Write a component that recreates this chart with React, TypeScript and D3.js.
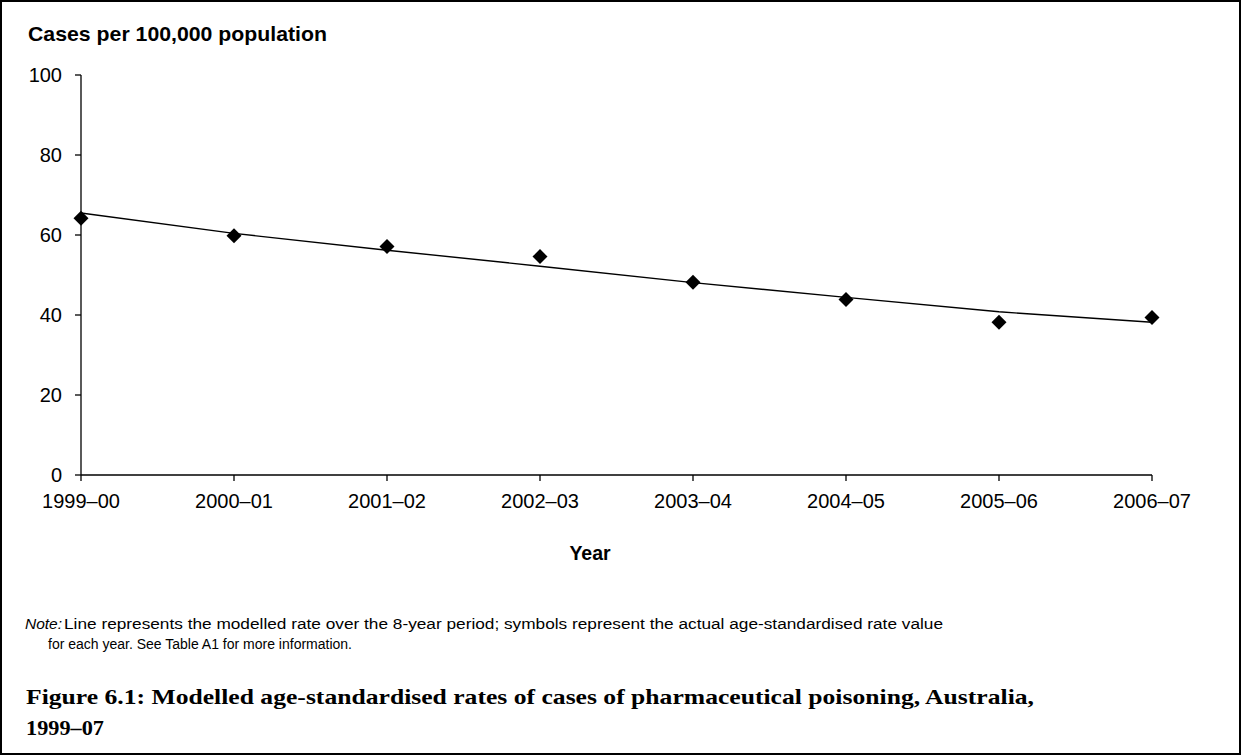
import React from "react";
import * as d3 from "d3";

const years = ["1999–00", "2000–01", "2001–02", "2002–03", "2003–04", "2004–05", "2005–06", "2006–07"];
const actualRates = [64.2, 59.8, 57.1, 54.6, 48.2, 43.9, 38.2, 39.4];
const modelledRates = [65.5, 60.4, 56.2, 52.2, 48.1, 44.4, 40.8, 38.2];
const yTicks = [0, 20, 40, 60, 80, 100];

const W = 1242;
const H = 756;
const plotLeft = 81;
const plotRight = 1152;
const plotTop = 75;
const plotBottom = 475;

export default function App() {
  const x = d3.scalePoint<string>().domain(years).range([plotLeft, plotRight]).padding(0);
  const y = d3.scaleLinear().domain([0, 100]).range([plotBottom, plotTop]);
  const line = d3
    .line<number>()
    .x((_, i) => x(years[i]) as number)
    .y((d) => y(d));
  const diamond = d3.symbol().type(d3.symbolSquare).size(112)() as string;
  const sans = "'Liberation Sans', Arial, sans-serif";
  const serif = "'Liberation Serif', 'Times New Roman', serif";

  return (
    <svg
      width={W}
      height={H}
      style={{ position: "absolute", left: 0, top: 0, background: "#fff" }}
      fontFamily={sans}
    >
      <rect x={1} y={1} width={W - 3} height={H - 3} fill="#fff" stroke="#000" strokeWidth={2} />

      <text x={28} y={41} fontSize={21} fontWeight="bold" fill="#000" textLength={299} lengthAdjust="spacingAndGlyphs">
        Cases per 100,000 population
      </text>

      {/* Y axis */}
      <line x1={plotLeft} x2={plotLeft} y1={y(100)} y2={y(0)} stroke="#000" strokeWidth={1.3} />
      {yTicks.map((t) => (
        <g key={t}>
          <line x1={plotLeft - 6} x2={plotLeft} y1={y(t)} y2={y(t)} stroke="#000" strokeWidth={1.3} />
          <text x={62} y={y(t)} dy="0.35em" textAnchor="end" fontSize={20} fill="#000">
            {t}
          </text>
        </g>
      ))}

      {/* X axis */}
      <line x1={plotLeft} x2={plotRight} y1={y(0)} y2={y(0)} stroke="#000" strokeWidth={1.3} />
      {years.map((yr) => (
        <g key={yr}>
          <line x1={x(yr)} x2={x(yr)} y1={y(0)} y2={y(0) + 6} stroke="#000" strokeWidth={1.3} />
          <text x={x(yr)} y={508} textAnchor="middle" fontSize={20} fill="#000">
            {yr}
          </text>
        </g>
      ))}
      <text x={590} y={560} textAnchor="middle" fontSize={19.5} fontWeight="bold" fill="#000">
        Year
      </text>

      {/* Modelled line */}
      <path d={line(modelledRates) as string} fill="none" stroke="#000" strokeWidth={1.4} />

      {/* Actual points */}
      {actualRates.map((v, i) => (
        <path
          key={i}
          d={diamond}
          transform={`translate(${x(years[i])},${y(v)}) rotate(45)`}
          fill="#000"
        />
      ))}

      {/* Note */}
      <text x={25} y={629} fontSize={15.5} fontStyle="italic" fill="#000">
        Note:
      </text>
      <text x={64} y={629} fontSize={15.5} fill="#000" textLength={879} lengthAdjust="spacingAndGlyphs">
        Line represents the modelled rate over the 8-year period; symbols represent the actual age-standardised rate value
      </text>
      <text x={48} y={649} fontSize={15.5} fill="#000" textLength={304} lengthAdjust="spacingAndGlyphs">
        for each year. See Table A1 for more information.
      </text>

      {/* Caption */}
      <text x={26} y={704} fontSize={21} fontWeight="bold" fontFamily={serif} fill="#000" textLength={1008} lengthAdjust="spacingAndGlyphs">
        Figure 6.1: Modelled age-standardised rates of cases of pharmaceutical poisoning, Australia,
      </text>
      <text x={26} y={735} fontSize={21} fontWeight="bold" fontFamily={serif} fill="#000" textLength={78} lengthAdjust="spacingAndGlyphs">
        1999–07
      </text>
    </svg>
  );
}
